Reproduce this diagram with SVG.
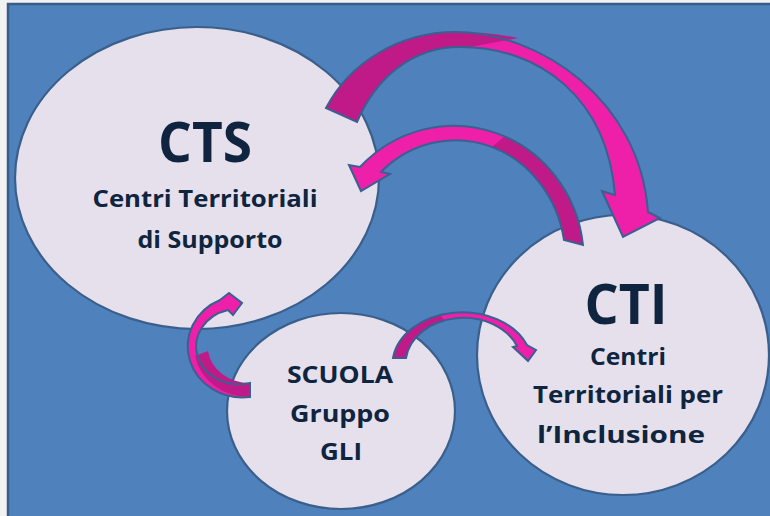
<svg xmlns="http://www.w3.org/2000/svg" xmlns:xlink="http://www.w3.org/1999/xlink" width="770" height="516" viewBox="0 0 770 516">
<style>
.bg{fill:#4f81bd;stroke:#385d8a;stroke-width:2.5}
.node{fill:#e5e0ec;stroke:#3a5f8b;stroke-width:2.2}
.t{font-family:"Open Sans","Liberation Sans",sans-serif;font-weight:bold;fill:#0f243e;text-anchor:middle}
.big{font-size:55px}
.sm{font-size:24px}
.bright{fill:#ee1fa9}
.dark{fill:#c01a89}
.outline{fill:none;stroke:#3a6090;stroke-width:2;stroke-linejoin:miter}
</style>
<defs>
<path id="a1" d="M326,108 C350,62 400,32 455,32 C540,32 640,100 648,212 L660,218 L623,237 L602,191 L615,195 C607,98 540,47 460,47 C410,47 375,80 357,122 Z"/>
<path id="a2" d="M583,245 A130 134 0 0 0 360,167 L349,165 L361,191 L390,174 L381,172 A110 120 0 0 1 564,240 Z"/>
<path id="a3" d="M250,397 A55 51 0 0 1 220,300 L229,293 L242,303 L233,315 L228,310 A42 37 0 0 0 250,383 Z"/>
<path id="a4" d="M393,358 A70 53 0 0 1 527,345 L536,350 L528,361 L513,347 L517,346 A58 46 0 0 0 406,358 Z"/>
</defs>
<rect x="0" y="0" width="770" height="516" fill="#f2f2f2"/>
<rect class="bg" x="8" y="4" width="775" height="520"/>
<g id="cts">
<ellipse class="node" cx="197" cy="178" rx="182" ry="151"/>
<text class="t big" x="205" y="162" textLength="94" lengthAdjust="spacingAndGlyphs">CTS</text>
<text class="t sm" x="205" y="207" textLength="225" lengthAdjust="spacingAndGlyphs">Centri Territoriali</text>
<text class="t sm" x="210" y="248" textLength="145" lengthAdjust="spacingAndGlyphs">di Supporto</text>
</g>
<g id="cti">
<ellipse class="node" cx="623" cy="355" rx="146" ry="140"/>
<text class="t big" x="626" y="324" textLength="83" lengthAdjust="spacingAndGlyphs">CTI</text>
<text class="t sm" x="628" y="365" textLength="76" lengthAdjust="spacingAndGlyphs">Centri</text>
<text class="t sm" x="628" y="403" textLength="190" lengthAdjust="spacingAndGlyphs">Territoriali per</text>
<text class="t sm" x="621" y="443" textLength="168" lengthAdjust="spacingAndGlyphs">l’Inclusione</text>
</g>
<g id="scuola">
<ellipse class="node" cx="341" cy="411" rx="114" ry="98"/>
<text class="t sm" x="340" y="383" textLength="106" lengthAdjust="spacingAndGlyphs">SCUOLA</text>
<text class="t sm" x="340" y="422" textLength="100" lengthAdjust="spacingAndGlyphs">Gruppo</text>
<text class="t sm" x="341" y="460" textLength="42" lengthAdjust="spacingAndGlyphs">GLI</text>
</g>
<g id="connectors">
<use xlink:href="#a1" class="bright"/>
<path class="dark" d="M326,108 C350,62 400,32 455,32 Q490,32 518,38 L470,47 L460,47 C410,47 375,80 357,122 Z"/>
<use xlink:href="#a1" class="outline"/>
<use xlink:href="#a2" class="bright"/>
<path class="dark" d="M583,245 A130 134 0 0 0 505,136 L492,147 A110 120 0 0 1 564,240 Z"/>
<use xlink:href="#a2" class="outline"/>
<use xlink:href="#a3" class="bright"/>
<path class="dark" d="M250,397 A55 51 0 0 1 195,356 L208,351 A42 37 0 0 0 250,383 Z"/>
<use xlink:href="#a3" class="outline"/>
<use xlink:href="#a4" class="bright"/>
<path class="dark" d="M393,358 A70 53 0 0 1 440,315 L445,321 A58 46 0 0 0 406,358 Z"/>
<use xlink:href="#a4" class="outline"/>
</g>
</svg>
